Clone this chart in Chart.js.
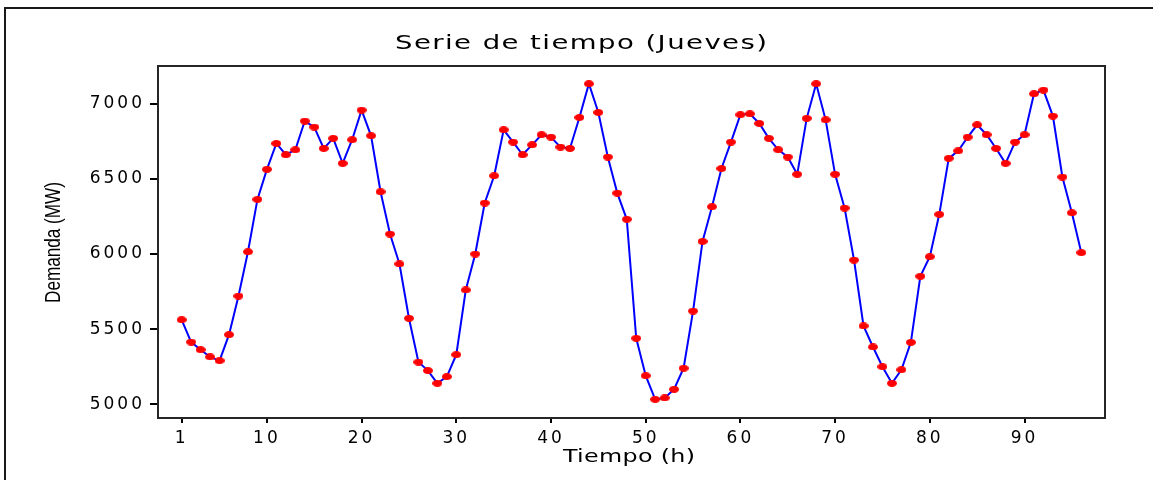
<!DOCTYPE html>
<html>
<head>
<meta charset="utf-8">
<title>Serie de tiempo (Jueves)</title>
<script src="https://cdn.jsdelivr.net/npm/chart.js@4.4.1/dist/chart.umd.min.js"></script>
<style>
  html, body { margin: 0; padding: 0; background: #ffffff; }
  #wrap { width: 1153px; height: 480px; position: relative; }
</style>
</head>
<body>
<div id="wrap"><canvas id="c" width="1153" height="480"></canvas></div>
<script>
// Hourly electricity demand, four consecutive days (hour index 1..96)
const hours = [
  1, 2, 3, 4, 5, 6, 7, 8, 9, 10, 11, 12, 13, 14, 15, 16, 17, 18, 19, 20, 21, 22, 23, 24,
  25, 26, 27, 28, 29, 30, 31, 32, 33, 34, 35, 36, 37, 38, 39, 40, 41, 42, 43, 44, 45, 46, 47, 48,
  49, 50, 51, 52, 53, 54, 55, 56, 57, 58, 59, 60, 61, 62, 63, 64, 65, 66, 67, 68, 69, 70, 71, 72,
  73, 74, 75, 76, 77, 78, 79, 80, 81, 82, 83, 84, 85, 86, 87, 88, 89, 90, 91, 92, 93, 94, 95, 96
];
const demandMW = [
  5563, 5415, 5364, 5316, 5291, 5464, 5721, 6015, 6363, 6563, 6735, 6660,
  6693, 6884, 6844, 6702, 6769, 6603, 6760, 6957, 6786, 6414, 6133, 5934,
  5573, 5282, 5225, 5141, 5185, 5331, 5761, 6000, 6339, 6520, 6826, 6744,
  6660, 6726, 6793, 6777, 6711, 6702, 6908, 7132, 6941, 6645, 6405, 6231,
  5440, 5191, 5034, 5043, 5101, 5241, 5621, 6084, 6314, 6569, 6744, 6926,
  6932, 6868, 6769, 6693, 6645, 6530, 6902, 7132, 6892, 6530, 6306, 5960,
  5522, 5382, 5251, 5141, 5231, 5413, 5852, 5982, 6264, 6636, 6686, 6777,
  6859, 6793, 6702, 6603, 6744, 6793, 7065, 7090, 6917, 6512, 6274, 6009
];
const xTicks = [1, 10, 20, 30, 40, 50, 60, 70, 80, 90];
const yTicks = [5000, 5500, 6000, 6500, 7000];

const chartTitle = 'Serie de tiempo (Jueves)';
const xTitle = 'Tiempo (h)';
const yTitle = 'Demanda (MW)';

// Red elliptical marker
function makeMarker(w, h, color) {
  const c = document.createElement('canvas');
  c.width = w; c.height = h;
  const g = c.getContext('2d');
  g.fillStyle = color;
  g.beginPath();
  g.ellipse(w / 2, h / 2, w / 2, h / 2, 0, 0, Math.PI * 2);
  g.fill();
  return c;
}
const marker = makeMarker(10, 7, '#ff0000');

const points = hours.map((h, i) => ({ x: h, y: demandMW[i] }));

const TICK_FONT = { family: 'DejaVu Sans', size: 17 };
const TICK_SPACING = '3px';

// Draws a single line of text stretched horizontally to a given width
function drawWideText(ctx, text, cx, baseline, font, targetW, sx) {
  ctx.save();
  ctx.font = font;
  ctx.letterSpacing = '0px';
  const natural = ctx.measureText(text).width;
  const n = text.length;
  const ls = Math.max(0, (targetW / sx - natural) / (n - 1));
  ctx.letterSpacing = ls + 'px';
  const w = ctx.measureText(text).width - ls;
  ctx.translate(cx, baseline);
  ctx.scale(sx, 1);
  ctx.textAlign = 'left';
  ctx.textBaseline = 'alphabetic';
  ctx.fillStyle = '#000000';
  ctx.fillText(text, -w / 2, 0);
  ctx.restore();
}

const decor = {
  id: 'decor',
  beforeUpdate(chart) { chart.ctx.letterSpacing = TICK_SPACING; },
  beforeLayout(chart) { chart.ctx.letterSpacing = TICK_SPACING; },
  beforeDraw(chart) {
    const ctx = chart.ctx;
    ctx.letterSpacing = TICK_SPACING;
    // outer frame (top and left edges)
    ctx.save();
    ctx.strokeStyle = '#1a1a1a';
    ctx.lineWidth = 2;
    ctx.beginPath();
    ctx.moveTo(5, 480);
    ctx.lineTo(5, 8);
    ctx.lineTo(1153, 8);
    ctx.stroke();
    ctx.restore();
  },
  beforeDatasetsDraw(chart) {
    const { ctx, chartArea: a } = chart;
    ctx.save();
    ctx.strokeStyle = '#262626';
    ctx.lineWidth = 2;
    ctx.strokeRect(a.left, a.top, a.right - a.left, a.bottom - a.top);
    ctx.restore();
  },
  afterDraw(chart) {
    const ctx = chart.ctx;
    drawWideText(ctx, chartTitle, 581, 49, '19px "DejaVu Sans"', 372, 1.45);
    drawWideText(ctx, xTitle, 629, 462, '17px "DejaVu Sans"', 132, 1.4);
    // vertical axis title, condensed
    ctx.save();
    ctx.translate(60, 242.5);
    ctx.rotate(-Math.PI / 2);
    ctx.font = '22px "Liberation Sans", Arial, sans-serif';
    ctx.letterSpacing = '0px';
    const w = ctx.measureText(yTitle).width;
    ctx.scale(121 / w, 1);
    ctx.textAlign = 'center';
    ctx.textBaseline = 'alphabetic';
    ctx.fillStyle = '#000000';
    ctx.fillText(yTitle, 0, 0);
    ctx.restore();
  }
};

new Chart(document.getElementById('c'), {
  type: 'line',
  data: {
    datasets: [{
      data: points,
      borderColor: '#0000ff',
      borderWidth: 2,
      pointStyle: marker,
      pointRadius: 5,
      pointHoverRadius: 5,
      tension: 0,
      fill: false
    }]
  },
  options: {
    responsive: false,
    animation: false,
    events: [],
    layout: { padding: { left: 0, top: 66, right: 48, bottom: 0 } },
    plugins: {
      legend: { display: false },
      title: { display: false },
      tooltip: { enabled: false }
    },
    scales: {
      x: {
        type: 'linear',
        min: -1.5,
        max: 98.5,
        afterBuildTicks(scale) { scale.ticks = xTicks.map(v => ({ value: v })); },
        afterFit(scale) { scale.height = 62; },
        border: { display: false },
        grid: { display: true, drawOnChartArea: false, drawTicks: true, tickLength: 5, color: '#000000', lineWidth: 2 },
        ticks: {
          font: TICK_FONT,
          color: '#000000',
          padding: 5,
          maxRotation: 0,
          autoSkip: false,
          callback: v => String(v)
        }
      },
      y: {
        type: 'linear',
        min: 4910,
        max: 7250,
        afterBuildTicks(scale) { scale.ticks = yTicks.map(v => ({ value: v })); },
        afterFit(scale) { scale.width = 158; },
        border: { display: false },
        grid: { display: true, drawOnChartArea: false, drawTicks: true, tickLength: 8, color: '#000000', lineWidth: 2 },
        ticks: {
          font: TICK_FONT,
          color: '#000000',
          padding: 5,
          autoSkip: false,
          callback: v => String(v)
        }
      }
    }
  },
  plugins: [decor]
});
</script>
</body>
</html>
